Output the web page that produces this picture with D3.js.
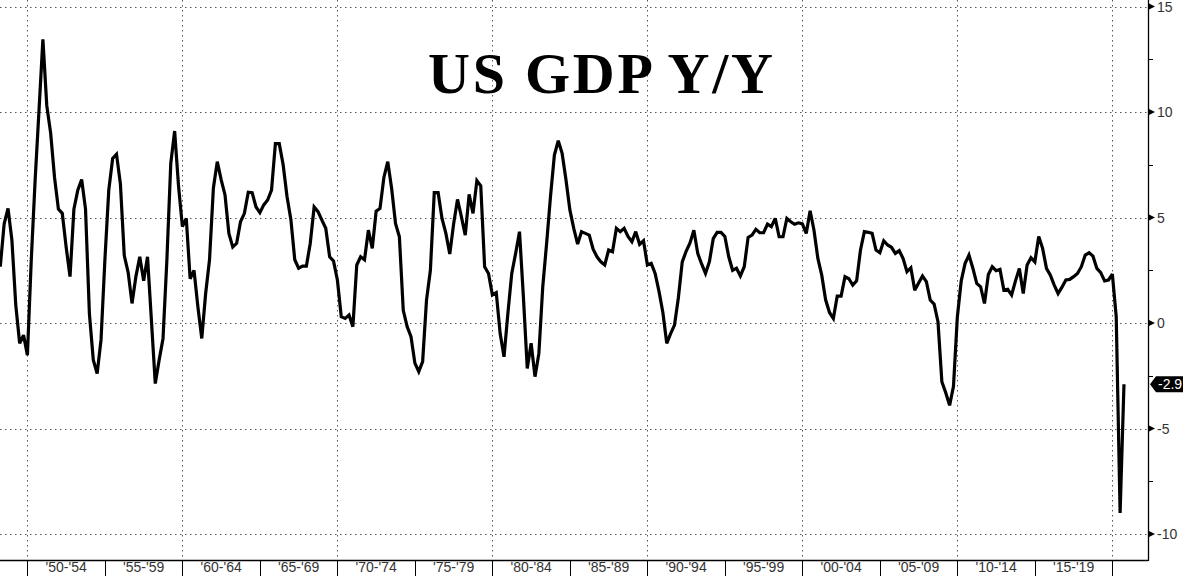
<!DOCTYPE html>
<html>
<head>
<meta charset="utf-8">
<script src="https://cdn.jsdelivr.net/npm/d3@7"></script>
<style>
  html, body { margin: 0; padding: 0; background: #fff; }
  svg { display: block; }
</style>
</head>
<body>
<svg id="chart" width="1183" height="576"></svg>
<script>
// ---- DATA ----
const titleText = "US GDP Y/Y";
const startYear = 1948;            // first observation: 1948 Q1
const startQuarter = 1;
// Real GDP, % change year over year, quarterly (1948 Q1 .. 2020 Q3)
const gdpYoY = [
  2.67, 4.7, 5.43, 3.93, 0.85, -0.96, -0.57, -1.52,            // 1948-49
  3.0, 6.8, 10.1, 13.44, 10.3, 9.0, 6.9, 5.4,                  // 1950-51
  5.2, 3.6, 2.2, 5.4, 6.3, 6.8, 5.4, 0.45,                     // 1952-53
  -1.75, -2.39, -0.8, 3.0, 6.3, 7.8, 8.0, 6.6,                 // 1954-55
  3.2, 2.4, 0.93, 2.2, 3.14, 2.0, 3.14, 0.14,                  // 1956-57
  -2.87, -1.75, -0.73, 3.0, 7.57, 9.1, 6.5, 4.57,              // 1958-59
  4.96, 2.1, 2.5, 0.77, -0.73, 1.4, 3.0, 6.4,                  // 1960-61
  7.65, 6.8, 6.07, 4.25, 3.6, 3.78, 4.8, 5.2,                  // 1962-63
  6.2, 6.18, 5.5, 5.23, 5.6, 5.83, 6.3, 8.5,                   // 1964-65
  8.5, 7.5, 6.0, 4.9, 3.0, 2.6, 2.7, 2.7,                      // 1966-67
  3.78, 5.5, 5.28, 4.88, 4.49, 3.14, 2.94, 2.04,               // 1968-69
  0.3, 0.22, 0.38, -0.17, 2.75, 3.14, 3.0, 4.4,                // 1970-71
  3.54, 5.3, 5.43, 6.9, 7.65, 6.38, 4.72, 4.09,                // 1972-73
  0.6, -0.17, -0.65, -1.9, -2.3, -1.83, 1.09, 2.5,             // 1974-75
  6.18, 6.18, 4.96, 4.25, 3.27, 4.7, 5.86, 5.04,               // 1976-77
  4.17, 6.1, 5.2, 6.75, 6.5, 2.67, 2.35, 1.33,                 // 1978-79
  1.44, -0.49, -1.6, 0.46, 2.35, 3.3, 4.33, 1.25,              // 1980-81
  -2.15, -0.96, -2.54, -1.44, 1.72, 3.78, 6.0, 7.96,           // 1982-83
  8.64, 8.04, 6.78, 5.36, 4.49, 3.74, 4.33, 4.25,              // 1984-85
  4.17, 3.5, 3.14, 2.9, 2.75, 3.46, 3.38, 4.49,                // 1986-87
  4.33, 4.49, 4.1, 3.85, 4.33, 3.73, 3.9, 2.75,                // 1988-89
  2.83, 2.35, 1.5, 0.5, -0.96, -0.5, -0.1, 1.2,                // 1990-91
  2.9, 3.4, 3.8, 4.4, 3.3, 2.8, 2.35, 2.9,                     // 1992-93
  4.0, 4.3, 4.3, 4.1, 3.14, 2.5, 2.6, 2.23,                    // 1994-95
  2.67, 4.06, 4.17, 4.44, 4.28, 4.28, 4.69, 4.57,              // 1996-97
  4.96, 4.09, 4.09, 4.96, 4.8, 4.68, 4.75, 4.7,                // 1998-99
  4.25, 5.32, 4.4, 3.06, 2.27, 1.1, 0.5, 0.22,                 // 2000-01
  1.28, 1.28, 2.2, 2.1, 1.8, 2.0, 3.46, 4.33,                  // 2002-03
  4.3, 4.25, 3.46, 3.33, 3.9, 3.7, 3.59, 3.3,                  // 2004-05
  3.43, 3.06, 2.43, 2.62, 1.56, 1.9, 2.23, 1.96,               // 2006-07
  1.09, 0.9, 0.06, -2.78, -3.3, -3.9, -3.0, 0.3,               // 2008-09
  2.0, 2.83, 3.22, 2.6, 1.88, 1.72, 0.93, 2.3,                 // 2010-11
  2.67, 2.48, 2.54, 1.56, 1.6, 1.33, 2.0, 2.59,                // 2012-13
  1.4, 2.75, 3.1, 2.9, 4.1, 3.54, 2.59, 2.27,                  // 2014-15
  1.8, 1.4, 1.7, 2.04, 2.07, 2.2, 2.35, 2.67,                  // 2016-17
  3.22, 3.33, 3.17, 2.59, 2.39, 2.0, 2.04, 2.32,               // 2018-19
  0.3, -9.0, -2.9                                              // 2020
];
const periodStarts = [1950, 1955, 1960, 1965, 1970, 1975, 1980, 1985, 1990, 1995, 2000, 2005, 2010, 2015, 2020];
const periodLabels = ["'50-'54", "'55-'59", "'60-'64", "'65-'69", "'70-'74", "'75-'79", "'80-'84",
                      "'85-'89", "'90-'94", "'95-'99", "'00-'04", "'05-'09", "'10-'14", "'15-'19"];
const gridYears = [1950, 1960, 1970, 1980, 1990, 2000, 2010, 2020];
const yMajorTicks = [15, 10, 5, 0, -5, -10];
const yMinorTicks = [12.5, 7.5, 2.5, -2.5, -7.5];
const lastValueLabel = "-2.9";

// ---- LAYOUT ----
const W = 1183, H = 576;
const plot = { left: 0, right: 1148, top: 0, bottom: 560 };

const svg = d3.select("#chart");

// quarter-end time in fractional years
const points = gdpYoY.map((v, i) => ({
  t: startYear + (startQuarter - 1) * 0.25 + 0.25 * (i + 1),
  v: v
}));

const x = d3.scaleLinear().domain([1948.232, 2022.3]).range([plot.left, plot.right]);
const y = d3.scaleLinear().domain([-11.23, 15.31]).range([plot.bottom, plot.top]);

// clip
svg.append("defs").append("clipPath").attr("id", "clip")
  .append("rect").attr("x", plot.left).attr("y", plot.top)
  .attr("width", plot.right - plot.left).attr("height", plot.bottom - plot.top);

// grid
const grid = svg.append("g").attr("class", "grid");
grid.selectAll("line.h").data(yMajorTicks).join("line")
  .attr("class", "h")
  .attr("x1", plot.left).attr("x2", plot.right)
  .attr("y1", d => Math.round(y(d)) + 0.5).attr("y2", d => Math.round(y(d)) + 0.5)
  .attr("stroke", "#555").attr("stroke-width", 1).attr("stroke-dasharray", "1.5,3.5");
grid.selectAll("line.v").data(gridYears).join("line")
  .attr("class", "v")
  .attr("x1", d => Math.round(x(d)) + 0.5).attr("x2", d => Math.round(x(d)) + 0.5)
  .attr("y1", plot.top).attr("y2", plot.bottom)
  .attr("stroke", "#555").attr("stroke-width", 1).attr("stroke-dasharray", "1.5,3.5");

// title
svg.append("text")
  .attr("x", 428).attr("y", 93)
  .attr("textLength", 345).attr("lengthAdjust", "spacing")
  .attr("font-family", "'Liberation Serif', 'Times New Roman', serif")
  .attr("font-weight", "bold").attr("font-size", 58)
  .attr("fill", "#000")
  .text(titleText);

// series line
const line = d3.line().x(d => x(d.t)).y(d => y(d.v)).curve(d3.curveLinear);
svg.append("path")
  .datum(points)
  .attr("clip-path", "url(#clip)")
  .attr("d", line)
  .attr("fill", "none")
  .attr("stroke", "#000")
  .attr("stroke-width", 3.2)
  .attr("stroke-linejoin", "miter")
  .attr("stroke-miterlimit", 3);

// bottom axis
const axisColor = "#000";
svg.append("line")
  .attr("x1", plot.left).attr("x2", plot.right)
  .attr("y1", plot.bottom + 0.5).attr("y2", plot.bottom + 0.5)
  .attr("stroke", axisColor).attr("stroke-width", 1.3);
svg.selectAll("line.sep").data(periodStarts).join("line")
  .attr("class", "sep")
  .attr("x1", d => Math.round(x(d)) + 0.5).attr("x2", d => Math.round(x(d)) + 0.5)
  .attr("y1", plot.bottom).attr("y2", H)
  .attr("stroke", axisColor).attr("stroke-width", 1);
svg.selectAll("text.xlab").data(periodLabels).join("text")
  .attr("class", "xlab")
  .attr("x", (d, i) => (x(periodStarts[i]) + x(periodStarts[i + 1])) / 2)
  .attr("y", 572)
  .attr("text-anchor", "middle")
  .attr("font-family", "'Liberation Sans', Arial, sans-serif")
  .attr("font-size", 14)
  .attr("fill", "#333")
  .text(d => d);

// right axis
svg.append("line")
  .attr("x1", plot.right + 0.5).attr("x2", plot.right + 0.5)
  .attr("y1", plot.top).attr("y2", plot.bottom + 1)
  .attr("stroke", axisColor).attr("stroke-width", 1.3);
svg.selectAll("line.minor").data(yMinorTicks).join("line")
  .attr("class", "minor")
  .attr("x1", plot.right).attr("x2", plot.right + 5)
  .attr("y1", d => Math.round(y(d)) + 0.5).attr("y2", d => Math.round(y(d)) + 0.5)
  .attr("stroke", axisColor).attr("stroke-width", 1);
svg.selectAll("path.major").data(yMajorTicks).join("path")
  .attr("class", "major")
  .attr("d", d => {
    const yy = y(d);
    return `M${plot.right},${yy - 3.5}L${plot.right + 7},${yy}L${plot.right},${yy + 3.5}Z`;
  })
  .attr("fill", "#000");
svg.selectAll("text.ylab").data(yMajorTicks).join("text")
  .attr("class", "ylab")
  .attr("x", plot.right + 9)
  .attr("y", d => y(d) + 5)
  .attr("font-family", "'Liberation Sans', Arial, sans-serif")
  .attr("font-size", 14)
  .attr("fill", "#333")
  .text(d => d);

// last value tag
const lastPt = points[points.length - 1];
const ty = y(lastPt.v);
const tag = svg.append("g");
tag.append("path")
  .attr("d", `M${plot.right + 2},${ty}L${plot.right + 8},${ty - 8}L${W},${ty - 8}L${W},${ty + 8}L${plot.right + 8},${ty + 8}Z`)
  .attr("fill", "#000");
tag.append("text")
  .attr("x", plot.right + 10).attr("y", ty + 5)
  .attr("font-family", "'Liberation Sans', Arial, sans-serif")
  .attr("font-size", 14)
  .attr("fill", "#fff")
  .text(lastValueLabel);
</script>
</body>
</html>
